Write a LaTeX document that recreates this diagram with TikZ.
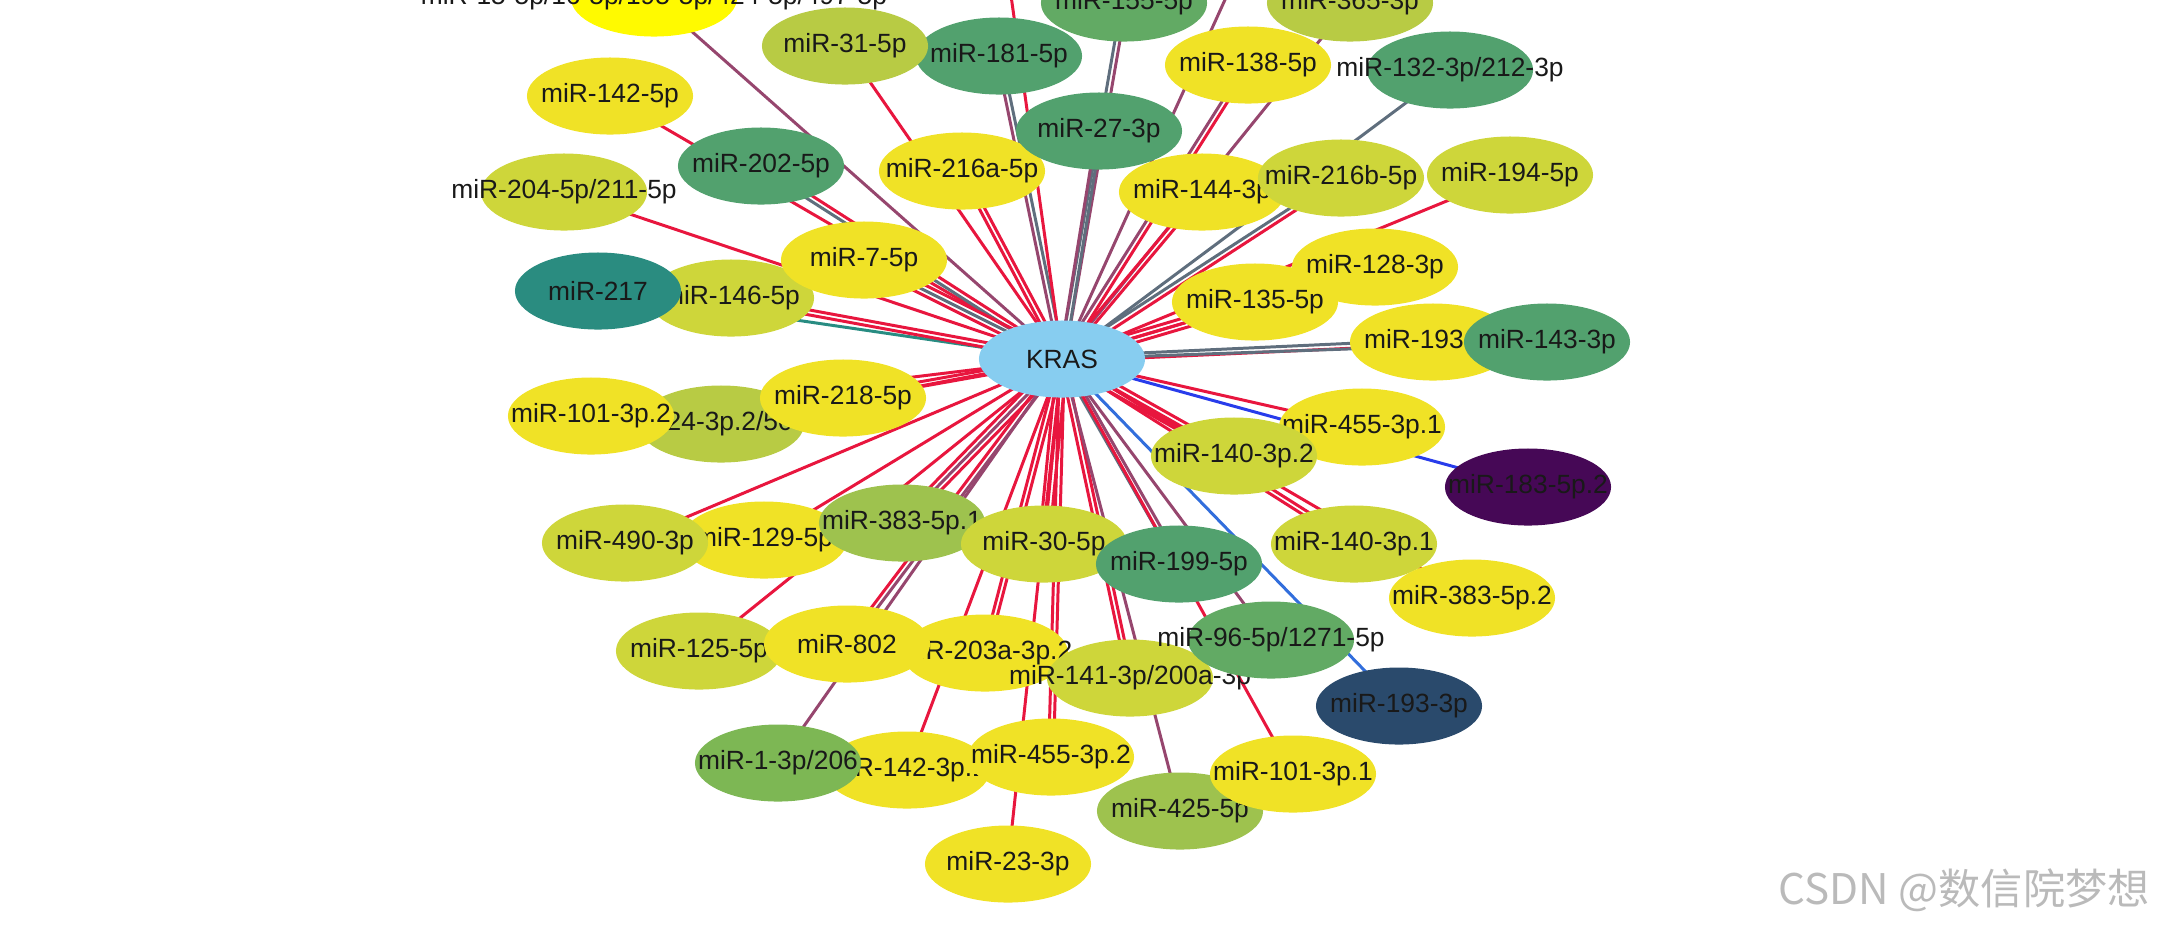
\documentclass[tikz,border=0pt]{standalone}
\usepackage{fontspec}
\setmainfont{Liberation Sans}
\newfontfamily\cjk{Noto Sans CJK SC}
\usetikzlibrary{shapes.geometric,calc}
\definecolor{cyel}{RGB}{240,226,38}
\definecolor{clim}{RGB}{206,214,58}
\definecolor{colv}{RGB}{184,203,68}
\definecolor{cogr}{RGB}{158,194,78}
\definecolor{cgra}{RGB}{125,183,84}
\definecolor{cgrb}{RGB}{98,170,100}
\definecolor{cgrn}{RGB}{82,161,110}
\definecolor{cteal}{RGB}{42,140,128}
\definecolor{cnavy}{RGB}{42,74,108}
\definecolor{cpurp}{RGB}{70,8,86}
\definecolor{csky}{RGB}{135,205,240}
\definecolor{cpure}{RGB}{255,250,0}
\definecolor{lred}{RGB}{232,22,62}
\definecolor{lmauve}{RGB}{150,70,110}
\definecolor{lslate}{RGB}{95,110,125}
\definecolor{lblue}{RGB}{40,60,235}
\definecolor{lsky}{RGB}{50,110,220}
\definecolor{lteal}{RGB}{40,140,130}
\pgfdeclarelayer{bg}
\pgfsetlayers{bg,main}
\tikzset{
  mirna/.style={ellipse,minimum width=1.66cm,minimum height=0.77cm,inner sep=0pt,
    font=\fontsize{7.5}{9}\selectfont,text=black!90,
    execute at begin node={\hbox to 0pt\bgroup\hss},execute at end node={\hss\egroup}},
  tored/.style={line width=0.85pt,draw=lred},
  tomauve/.style={line width=0.85pt,draw=lmauve},
  toslate/.style={line width=0.85pt,draw=lslate},
  toblue/.style={line width=0.85pt,draw=lblue},
  tosky/.style={line width=0.85pt,draw=lsky},
  toteal/.style={line width=0.85pt,draw=lteal}
}
\begin{document}
\begin{tikzpicture}[x=0.01cm,y=-0.01cm]
  \useasboundingbox (0,0) rectangle (2182,932);
  \node[mirna,fill=cpure] (m15) at (654,-2) {miR-15-5p/16-5p/195-5p/424-5p/497-5p};
  \node[mirna,fill=cgrb] (m155) at (1124,3) {miR-155-5p};
  \node[mirna,fill=colv] (m365) at (1350,3) {miR-365-3p};
  \node[mirna,fill=cgrn] (m181) at (999,56) {miR-181-5p};
  \node[mirna,fill=colv] (m31) at (845,46) {miR-31-5p};
  \node[mirna,fill=cyel] (m138) at (1248,65) {miR-138-5p};
  \node[mirna,fill=cgrn] (m132) at (1450,70) {miR-132-3p/212-3p};
  \node[mirna,fill=cyel] (m142a) at (610,96) {miR-142-5p};
  \node[mirna,fill=cgrn] (m202) at (761,166) {miR-202-5p};
  \node[mirna,fill=cyel] (m216a) at (962,171) {miR-216a-5p};
  \node[mirna,fill=cgrn] (m27) at (1099,131) {miR-27-3p};
  \node[mirna,fill=cyel] (m144) at (1202,192) {miR-144-3p};
  \node[mirna,fill=clim] (m216b) at (1341,178) {miR-216b-5p};
  \node[mirna,fill=clim] (m194) at (1510,175) {miR-194-5p};
  \node[mirna,fill=clim] (m204) at (564,192) {miR-204-5p/211-5p};
  \node[mirna,fill=clim] (m146) at (731,298) {miR-146-5p};
  \node[mirna,fill=cyel] (m7) at (864,260) {miR-7-5p};
  \node[mirna,fill=cteal] (m217) at (598,291) {miR-217};
  \node[mirna,fill=cyel] (m128) at (1375,267) {miR-128-3p};
  \node[mirna,fill=cyel] (m135) at (1255,302) {miR-135-5p};
  \node[mirna,fill=cyel] (m193a) at (1433,342) {miR-193-5p};
  \node[mirna,fill=cgrn] (m143) at (1547,342) {miR-143-3p};
  \node[mirna,fill=colv] (m124) at (721,424) {miR-124-3p.2/506-3p};
  \node[mirna,fill=cyel] (m101b) at (591,416) {miR-101-3p.2};
  \node[mirna,fill=cyel] (m218) at (843,398) {miR-218-5p};
  \node[mirna,fill=cyel] (m455a) at (1362,427) {miR-455-3p.1};
  \node[mirna,fill=clim] (m140b) at (1234,456) {miR-140-3p.2};
  \node[mirna,fill=cpurp] (m183) at (1528,487) {miR-183-5p.2};
  \node[mirna,fill=cyel] (m129) at (764,540) {miR-129-5p};
  \node[mirna,fill=clim] (m490) at (625,543) {miR-490-3p};
  \node[mirna,fill=cogr] (m383a) at (902,523) {miR-383-5p.1};
  \node[mirna,fill=clim] (m30) at (1044,544) {miR-30-5p};
  \node[mirna,fill=cgrn] (m199) at (1179,564) {miR-199-5p};
  \node[mirna,fill=clim] (m140a) at (1354,544) {miR-140-3p.1};
  \node[mirna,fill=cyel] (m383b) at (1472,598) {miR-383-5p.2};
  \node[mirna,fill=clim] (m125) at (699,651) {miR-125-5p};
  \node[mirna,fill=cyel] (m203) at (985,653) {miR-203a-3p.2};
  \node[mirna,fill=cyel] (m802) at (847,644) {miR-802};
  \node[mirna,fill=clim] (m141) at (1130,678) {miR-141-3p/200a-3p};
  \node[mirna,fill=cgrb] (m96) at (1271,640) {miR-96-5p/1271-5p};
  \node[mirna,fill=cnavy] (m193b) at (1399,706) {miR-193-3p};
  \node[mirna,fill=cyel] (m142b) at (907,770) {miR-142-3p.1};
  \node[mirna,fill=cgra] (m1) at (778,763) {miR-1-3p/206};
  \node[mirna,fill=cyel] (m455b) at (1051,757) {miR-455-3p.2};
  \node[mirna,fill=cogr] (m425) at (1180,811) {miR-425-5p};
  \node[mirna,fill=cyel] (m101a) at (1293,774) {miR-101-3p.1};
  \node[mirna,fill=cyel] (m23) at (1008,864) {miR-23-3p};
  \node[mirna,fill=csky] (kras) at (1062,359) {KRAS};
  \coordinate (up1) at (1006,-40);
  \coordinate (up2) at (1243,-40);
  \node[font=\cjk\fontsize{12}{14}\selectfont,text=black!27,anchor=east] (wm) at (2162,890) {CSDN @数信院梦想};
  \begin{pgfonlayer}{bg}
    \foreach \n/\s/\o in {m15/tomauve/0, m31/tored/0, m181/toslate/-.7, m181/tomauve/.7,
        m155/tomauve/-.7, m155/toslate/.7, m365/tomauve/0, m138/tored/-.7, m138/tomauve/.7,
        m132/toslate/0, m142a/tored/0, m202/tored/-.7, m202/toslate/.7, m216a/tored/-.7,
        m216a/tored/.7, m27/toslate/-.7, m27/tomauve/.7, m144/tored/-.7, m144/tored/.7,
        m216b/tored/-.7, m216b/toslate/.7, m194/tored/0, m204/tored/0, m7/tored/-1.4,
        m7/toslate/0, m7/tored/1.4, m217/toteal/0, m146/tored/-.7, m146/tored/.7,
        m128/tored/0, m135/tored/-1.4, m135/tored/0, m135/tored/1.4, m193a/tored/-.7,
        m193a/toslate/.7, m143/toslate/0, m101b/tored/0, m124/tored/0, m218/tored/-.7,
        m218/tored/.7, m455a/tored/0, m183/toblue/0, m140b/tored/-1.4, m140b/tored/0,
        m140b/tored/1.4, m140a/tored/-.7, m140a/tored/.7, m383b/tored/0, m490/tored/0,
        m129/tored/0, m383a/tored/-1.4, m383a/tomauve/0, m383a/tored/1.4, m30/tored/-1.4,
        m30/tored/0, m30/tored/1.4, m199/toslate/-.7, m199/tomauve/.7, m125/tored/0,
        m802/tored/-.7, m802/tomauve/.7, m203/tored/-.7, m203/tored/.7, m141/tored/-.7,
        m141/tored/.7, m96/tomauve/0, m193b/tosky/0, m1/tomauve/0, m142b/tored/0,
        m455b/tored/-.7, m455b/tored/.7, m101a/tored/0, m425/tomauve/0, m23/tored/0,
        up1/tored/0, up2/tomauve/0}
      \draw[\s] ($(kras)!\o pt!90:(\n)$) -- ($(\n)!\o pt!-90:(kras)$);
  \end{pgfonlayer}
\end{tikzpicture}
\end{document}
